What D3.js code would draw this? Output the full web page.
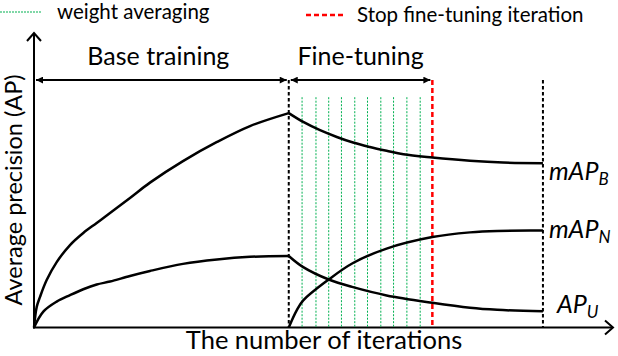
<!DOCTYPE html>
<html>
<head>
<meta charset="utf-8">
<script src="https://cdn.jsdelivr.net/npm/d3@7"></script>
<style>
  body { margin: 0; background: #fff; }
  svg { display: block; font-family: Lato, "Open Sans", sans-serif; }
</style>
</head>
<body>
<div id="chart"></div>
<script>
// iteration positions (x) and AP values (y), arbitrary units 0-100
const baseEnd = 44;
const stopIter = 68.8;
const endIter = 87.9;
const avgIters = [46.3, 48.7, 50.9, 53.1, 55.4, 57.6, 59.9, 62.1, 64.4, 66.7];

const baseUpperX = [0, 0.47, 1.04, 2.19, 3.92, 6.22, 8.51, 10.83, 13.13, 16.58, 20.03, 25.73, 31.61, 37.31, 44];
const baseUpperY = [0, 7.0, 10.4, 16.1, 22.2, 28.0, 32.1, 35.5, 38.9, 44.0, 49.2, 56.5, 63.0, 68.4, 72.8];
const baseLowerX = [0, 1.61, 3.92, 6.22, 8.51, 10.83, 13.13, 16.58, 20.03, 25.73, 31.61, 37.31, 44];
const baseLowerY = [0, 5.4, 8.8, 11.0, 13.0, 14.6, 15.6, 17.5, 19.2, 21.6, 23.1, 24.0, 24.3];

const mapBX = [44, 46.5, 49.4, 52.3, 55.1, 58.0, 60.9, 63.8, 68.8, 75.3, 81, 87.9];
const mapBY = [72.8, 69.8, 67.0, 64.7, 62.8, 61.3, 60.0, 58.8, 57.7, 56.6, 56.0, 55.8];
const apUX = [44, 46.5, 50.9, 55.1, 60.9, 68.8, 75.3, 80, 87.9];
const apUY = [24.3, 20.5, 16.3, 13.7, 10.9, 8.4, 6.7, 6.0, 5.5];
const mapNX = [44, 45.37, 46.5, 50.9, 55.1, 60.9, 68.8, 75.3, 80, 87.9];
const mapNY = [0, 5.8, 9.2, 16.3, 21.9, 26.8, 30.7, 32.3, 32.8, 32.9];

const phaseLabels = ["Base training", "Fine-tuning"];
const legendLabels = ["weight averaging", "Stop fine-tuning iteration"];
const curveNames = [["mAP", "B"], ["mAP", "N"], ["AP", "U"]];

const width = 618;
const height = 356;

const x = d3.scaleLinear().domain([0, 100]).range([34, 613]);
const y = d3.scaleLinear().domain([0, 100]).range([327.5, 33]);

const svg = d3.create("svg")
    .attr("width", width)
    .attr("height", height);

const defs = svg.append("defs");
defs.append("marker")
    .attr("id", "tri")
    .attr("viewBox", "0 -5 10 10")
    .attr("refX", 10)
    .attr("refY", 0)
    .attr("markerWidth", 10)
    .attr("markerHeight", 7)
    .attr("markerUnits", "userSpaceOnUse")
    .attr("orient", "auto-start-reverse")
    .append("path")
    .attr("d", "M0,-5L10,0L0,5Z")
    .attr("fill", "#000");

const zip = (xs, ys) => xs.map((v, i) => [v, ys[i]]);
const line = d3.line()
    .x(d => x(d[0]))
    .y(d => y(d[1]))
    .curve(d3.curveCatmullRom.alpha(0.5));

// axes
const axisTop = 100;
svg.append("line")
    .attr("x1", x(0)).attr("x2", x(0))
    .attr("y1", y(0) + 1).attr("y2", y(axisTop))
    .attr("stroke", "#000").attr("stroke-width", 2);
svg.append("path")
    .attr("d", `M${x(0) - 7},${y(axisTop) + 8}L${x(0)},${y(axisTop)}L${x(0) + 7},${y(axisTop) + 8}`)
    .attr("fill", "none").attr("stroke", "#000").attr("stroke-width", 2);
svg.append("line")
    .attr("x1", x(0) - 1).attr("x2", x(100))
    .attr("y1", y(0)).attr("y2", y(0))
    .attr("stroke", "#000").attr("stroke-width", 2);
svg.append("path")
    .attr("d", `M${x(100) - 8},${y(0) - 7}L${x(100)},${y(0)}L${x(100) - 8},${y(0) + 7}`)
    .attr("fill", "none").attr("stroke", "#000").attr("stroke-width", 2);

// vertical markers
const annotY = 84;
svg.append("g")
    .selectAll("line")
    .data(avgIters)
    .join("line")
    .attr("x1", d => x(d)).attr("x2", d => x(d))
    .attr("y1", y(78.2)).attr("y2", y(0))
    .attr("stroke", "#00b050")
    .attr("stroke-width", 1)
    .attr("stroke-dasharray", "2,1.5");

svg.append("g")
    .selectAll("line")
    .data([baseEnd, endIter])
    .join("line")
    .attr("x1", d => x(d)).attr("x2", d => x(d))
    .attr("y1", y(annotY)).attr("y2", y(0))
    .attr("stroke", "#000")
    .attr("stroke-width", 2)
    .attr("stroke-dasharray", "3.5,2.5");

svg.append("line")
    .attr("x1", x(stopIter)).attr("x2", x(stopIter))
    .attr("y1", y(annotY)).attr("y2", y(0))
    .attr("stroke", "#ff0000")
    .attr("stroke-width", 2.5)
    .attr("stroke-dasharray", "5,3");

// curves
const curves = [
    zip(baseUpperX, baseUpperY),
    zip(baseLowerX, baseLowerY),
    zip(mapBX, mapBY),
    zip(apUX, apUY),
    zip(mapNX, mapNY),
];
svg.append("g")
    .selectAll("path")
    .data(curves)
    .join("path")
    .attr("d", line)
    .attr("fill", "none")
    .attr("stroke", "#000")
    .attr("stroke-width", 2.5);

// phase arrows
const phases = [[0, baseEnd], [baseEnd, stopIter]];
svg.append("g")
    .selectAll("line")
    .data(phases)
    .join("line")
    .attr("x1", d => x(d[0]) + 2).attr("x2", d => x(d[1]) - 2)
    .attr("y1", y(annotY)).attr("y2", y(annotY))
    .attr("stroke", "#000")
    .attr("stroke-width", 2)
    .attr("marker-start", "url(#tri)")
    .attr("marker-end", "url(#tri)");

svg.append("g")
    .selectAll("text")
    .data(phases)
    .join("text")
    .attr("x", d => (x(d[0]) + x(d[1])) / 2 + (d[0] === 0 ? -3 : 0))
    .attr("y", y(annotY) - 15)
    .attr("text-anchor", "middle")
    .attr("font-size", 25)
    .text((d, i) => phaseLabels[i]);

// curve labels
const lastY = [mapBY[mapBY.length - 1], mapNY[mapNY.length - 1], apUY[apUY.length - 1]];
const labelDy = [17, 7, 2];
const labelDx = [6, 6, 14];
const labels = svg.append("g")
    .selectAll("text")
    .data(curveNames)
    .join("text")
    .attr("x", (d, i) => x(endIter) + labelDx[i])
    .attr("y", (d, i) => y(lastY[i]) + labelDy[i])
    .attr("font-size", 25)
    .attr("font-style", "italic");
labels.append("tspan").text(d => d[0]);
labels.append("tspan")
    .attr("font-size", 17)
    .attr("dy", 5)
    .text(d => d[1]);

// legend
svg.append("line")
    .attr("x1", 0).attr("x2", 41)
    .attr("y1", 12).attr("y2", 12)
    .attr("stroke", "#00b050")
    .attr("stroke-width", 1.2)
    .attr("stroke-dasharray", "2,1");
svg.append("text")
    .attr("x", 57).attr("y", 19)
    .attr("font-size", 20.5)
    .text(legendLabels[0]);
svg.append("line")
    .attr("x1", 306).attr("x2", 345)
    .attr("y1", 15).attr("y2", 15)
    .attr("stroke", "#ff0000")
    .attr("stroke-width", 2.5)
    .attr("stroke-dasharray", "5,3");
svg.append("text")
    .attr("x", 357).attr("y", 22)
    .attr("font-size", 20.5)
    .text(legendLabels[1]);

// axis titles
svg.append("text")
    .attr("x", 324).attr("y", 349)
    .attr("text-anchor", "middle")
    .attr("font-size", 25.5)
    .text("The number of iterations");
svg.append("text")
    .attr("transform", "translate(22,190) rotate(-90)")
    .attr("text-anchor", "middle")
    .attr("font-size", 23.5)
    .text("Average precision (AP)");

d3.select("#chart").node().append(svg.node());
</script>
</body>
</html>
